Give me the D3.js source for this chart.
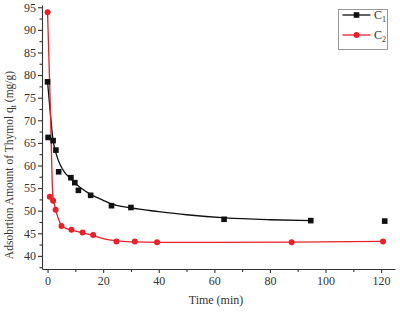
<!DOCTYPE html>
<html><head><meta charset="utf-8">
<script src="https://cdn.jsdelivr.net/npm/d3@7"></script>
<style>body{margin:0;background:#fff}svg{display:block}text{font-family:"Liberation Serif","Times New Roman",serif;fill:#333}</style>
</head><body><svg id="c" width="400" height="314"></svg>
<script>
// Measured points
const c1Time = [0, 0.2, 2, 3, 4, 8.4, 9.8, 11.1, 15.5, 23, 30, 63.5, 94.7, 121.3];
const c1Value = [78.5, 66.2, 65.5, 63.4, 58.6, 57.3, 56.2, 54.5, 53.4, 51.1, 50.7, 48.1, 47.8, 47.7];
const c2Time = [0, 0.8, 2, 2.9, 5, 8.6, 12.6, 16.4, 24.8, 31.4, 39.4, 87.8, 120.7];
const c2Value = [93.9, 53.1, 52.2, 50.2, 46.6, 45.8, 45.2, 44.6, 43.2, 43.2, 43.0, 43.0, 43.2];
// Fitted curves
const c1FitTime = [0, 1, 2, 3, 4.5, 6, 8.5, 10, 12, 15.5, 20, 23, 30, 40, 50, 64, 80, 95];
const c1FitValue = [78.5, 71.5, 65.5, 62.8, 60.2, 58.6, 57.0, 56.0, 55.0, 53.6, 52.3, 51.5, 50.6, 49.8, 49.1, 48.4, 48.0, 47.8];
const c2FitTime = [0, 1, 1.9, 2.9, 4.5, 6, 8.6, 12.6, 16.4, 20, 25, 31, 40, 60, 88, 121];
const c2FitValue = [93.9, 72.8, 53.5, 50.3, 47.3, 46.3, 45.7, 45.1, 44.5, 43.8, 43.3, 43.1, 43.0, 43.0, 43.05, 43.2];
const xTicks = [0, 20, 40, 60, 80, 100, 120];
const yTicks = [40, 45, 50, 55, 60, 65, 70, 75, 80, 85, 90, 95];
const seriesNames = ["C", "C"];
const seriesSubs = ["1", "2"];

const svg = d3.select("#c");
const x = d3.scaleLinear().domain([-2, 125]).range([42, 395]);
const y = d3.scaleLinear().domain([37.1, 95.5]).range([269, 5]);

const black = "#111", red = "#e8202a", axisCol = "#333";
const FF = "'Liberation Serif', 'Times New Roman', serif";

// axes
const xAxis = d3.axisBottom(x).tickValues(xTicks).tickSize(4).tickSizeOuter(0).tickPadding(3);
svg.append("g").attr("transform", "translate(0,269)").call(xAxis);
const xMinor = d3.axisBottom(x).tickValues(d3.range(10, 121, 20)).tickSize(3).tickFormat("").tickSizeOuter(0);
svg.append("g").attr("transform", "translate(0,269)").call(xMinor).select(".domain").remove();
const yAxis = d3.axisLeft(y).tickValues(yTicks).tickSize(4).tickSizeOuter(0).tickPadding(2);
svg.append("g").attr("transform", "translate(42,0)").call(yAxis);
const yMinor = d3.axisLeft(y).tickValues(d3.range(37.5, 95, 5)).tickSize(2.5).tickFormat("").tickSizeOuter(0);
svg.append("g").attr("transform", "translate(42,0)").call(yMinor).select(".domain").remove();
svg.selectAll("g").attr("font-family", FF);
svg.selectAll(".domain, .tick line").attr("stroke", axisCol).attr("stroke-width", 1.1);
svg.selectAll(".tick text").attr("font-family", FF).attr("font-size", 12).attr("fill", "#333");

// axis titles
svg.append("text").attr("x", 216).attr("y", 304).attr("text-anchor", "middle").attr("font-family", FF).attr("font-size", 12).text("Time (min)");
const yl = svg.append("text").attr("transform", "translate(13,165) rotate(-90)").attr("text-anchor", "middle").attr("font-family", FF).attr("font-size", 11.5);
yl.append("tspan").text("Adsobrtion Amount of Thymol q");
yl.append("tspan").attr("dy", 2.5).attr("font-size", 8).text("t");
yl.append("tspan").attr("dy", -2.5).text(" (mg/g)");

// lines
const line = d3.line().x(d => x(d[0])).y(d => y(d[1])).curve(d3.curveMonotoneX);
svg.append("path").datum(d3.zip(c1FitTime, c1FitValue)).attr("d", line).attr("fill", "none").attr("stroke", black).attr("stroke-width", 1.3);
svg.append("path").datum(d3.zip(c2FitTime, c2FitValue)).attr("d", line).attr("fill", "none").attr("stroke", red).attr("stroke-width", 1.3);

// markers
const s = 5.6;
svg.append("g").selectAll("rect").data(d3.zip(c1Time, c1Value)).join("rect")
  .attr("x", d => x(d[0]) - s / 2).attr("y", d => y(d[1]) - s / 2).attr("width", s).attr("height", s).attr("fill", black);
svg.append("g").selectAll("circle").data(d3.zip(c2Time, c2Value)).join("circle")
  .attr("cx", d => x(d[0])).attr("cy", d => y(d[1])).attr("r", 3).attr("fill", red);

// legend
const lg = svg.append("g");
lg.append("rect").attr("x", 338.5).attr("y", 9.5).attr("width", 49).attr("height", 40).attr("fill", "#fff").attr("stroke", "#999").attr("stroke-width", 1);
const cols = [black, red];
[15, 35].forEach((ly, i) => {
  lg.append("line").attr("x1", 342.5).attr("x2", 370.5).attr("y1", ly).attr("y2", ly).attr("stroke", cols[i]).attr("stroke-width", 1.3);
  if (i === 0) lg.append("rect").attr("x", 356.5 - s / 2).attr("y", ly - s / 2).attr("width", s).attr("height", s).attr("fill", black);
  else lg.append("circle").attr("cx", 356.5).attr("cy", ly).attr("r", 3).attr("fill", red);
  const t = lg.append("text").attr("x", 374).attr("y", ly + 4).attr("font-family", FF).attr("font-size", 12).attr("fill", "#333");
  t.append("tspan").text(seriesNames[i]);
  t.append("tspan").attr("dy", 3).attr("font-size", 8).text(seriesSubs[i]);
});
</script></body></html>
